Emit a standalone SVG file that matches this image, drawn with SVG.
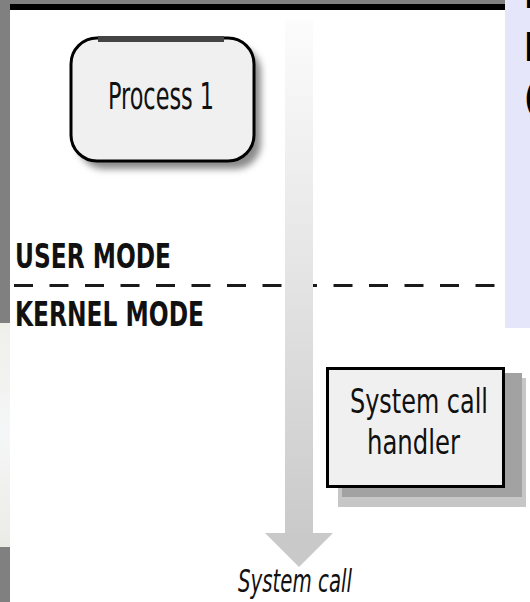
<svg xmlns="http://www.w3.org/2000/svg" width="530" height="602" viewBox="0 0 530 602">
  <style>
    .cond { font-family: "Liberation Sans Narrow", "DejaVu Sans Condensed", "Liberation Sans", sans-serif; font-stretch: condensed; fill: #111; }
    .mode { font-weight: bold; font-size: 33px; }
    .lbl { font-size: 37px; }
    .edge { font-family: "Liberation Sans", sans-serif; font-size: 43px; fill: #000; }
  </style>
  <defs>
    <linearGradient id="shaftGrad" x1="0" y1="0" x2="0" y2="1">
      <stop offset="0" stop-color="#fcfcfc"/>
      <stop offset="0.5" stop-color="#e4e4e4"/>
      <stop offset="1" stop-color="#cacaca"/>
    </linearGradient>
    <linearGradient id="stripGrad" x1="0" y1="0" x2="0" y2="1">
      <stop offset="0" stop-color="#efefea"/>
      <stop offset="0.5" stop-color="#f5f6f7"/>
      <stop offset="1" stop-color="#ebebe6"/>
    </linearGradient>
    <filter id="blurShadow" x="-20%" y="-20%" width="140%" height="150%">
      <feGaussianBlur stdDeviation="3.5"/>
    </filter>
  </defs>

  <!-- background -->
  <rect x="0" y="0" width="530" height="602" fill="#ffffff"/>
  <rect x="0" y="0" width="10" height="602" fill="#808080"/>
  <rect x="0" y="323" width="10" height="224" fill="url(#stripGrad)"/>
  <rect x="0" y="0" width="505" height="4" fill="#808080"/>
  <rect x="10" y="4" width="495" height="6" fill="#000000"/>
  <rect x="505" y="0" width="25" height="328" fill="#e6e6fa"/>
  <text class="edge" x="523" y="8">I</text>
  <text class="edge" x="523" y="61">I</text>
  <text class="edge" x="524" y="110">(</text>

  <!-- mode boundary -->
  <g id="mode-boundary">
    <line x1="14" y1="285.5" x2="505" y2="285.5" stroke="#1a1a1a" stroke-width="3" stroke-dasharray="19 16.5"/>
    <text class="cond mode" x="15" y="268" textLength="156" lengthAdjust="spacingAndGlyphs">USER MODE</text>
    <text class="cond mode" x="15" y="326" textLength="189" lengthAdjust="spacingAndGlyphs">KERNEL MODE</text>
  </g>

  <!-- connectors -->
  <g id="connectors">
    <rect x="285" y="20" width="28" height="514" fill="url(#shaftGrad)"/>
    <polygon points="265,533 333,533 299,567" fill="#c9c9c9"/>
    <text class="cond" font-style="italic" font-size="32" x="238" y="592" textLength="114" lengthAdjust="spacingAndGlyphs">System call</text>
  </g>

  <!-- Process 1 -->
  <g id="process1">
    <rect x="78" y="46" width="183" height="123" rx="26" ry="26" fill="#8a8a8a" filter="url(#blurShadow)"/>
    <rect x="71" y="38" width="183" height="123" rx="26" ry="26" fill="#f0f0f0" stroke="#000" stroke-width="3"/>
    <rect x="98" y="36" width="126" height="6" fill="#444"/>
    <text class="cond lbl" x="108" y="109" textLength="106" lengthAdjust="spacingAndGlyphs">Process 1</text>
  </g>

  <!-- System call handler -->
  <g id="handler">
    <rect x="338" y="378" width="188" height="129" fill="#c6c6c6"/>
    <rect x="342" y="373" width="180" height="124" fill="#a2a2a2"/>
    <rect x="327.5" y="368.5" width="176" height="118" fill="#f0f0f0" stroke="#000" stroke-width="3"/>
    <text class="cond" font-size="33" x="350" y="413" textLength="138" lengthAdjust="spacingAndGlyphs">System call</text>
    <text class="cond" font-size="33" x="367" y="454" textLength="93" lengthAdjust="spacingAndGlyphs">handler</text>
  </g>
</svg>
